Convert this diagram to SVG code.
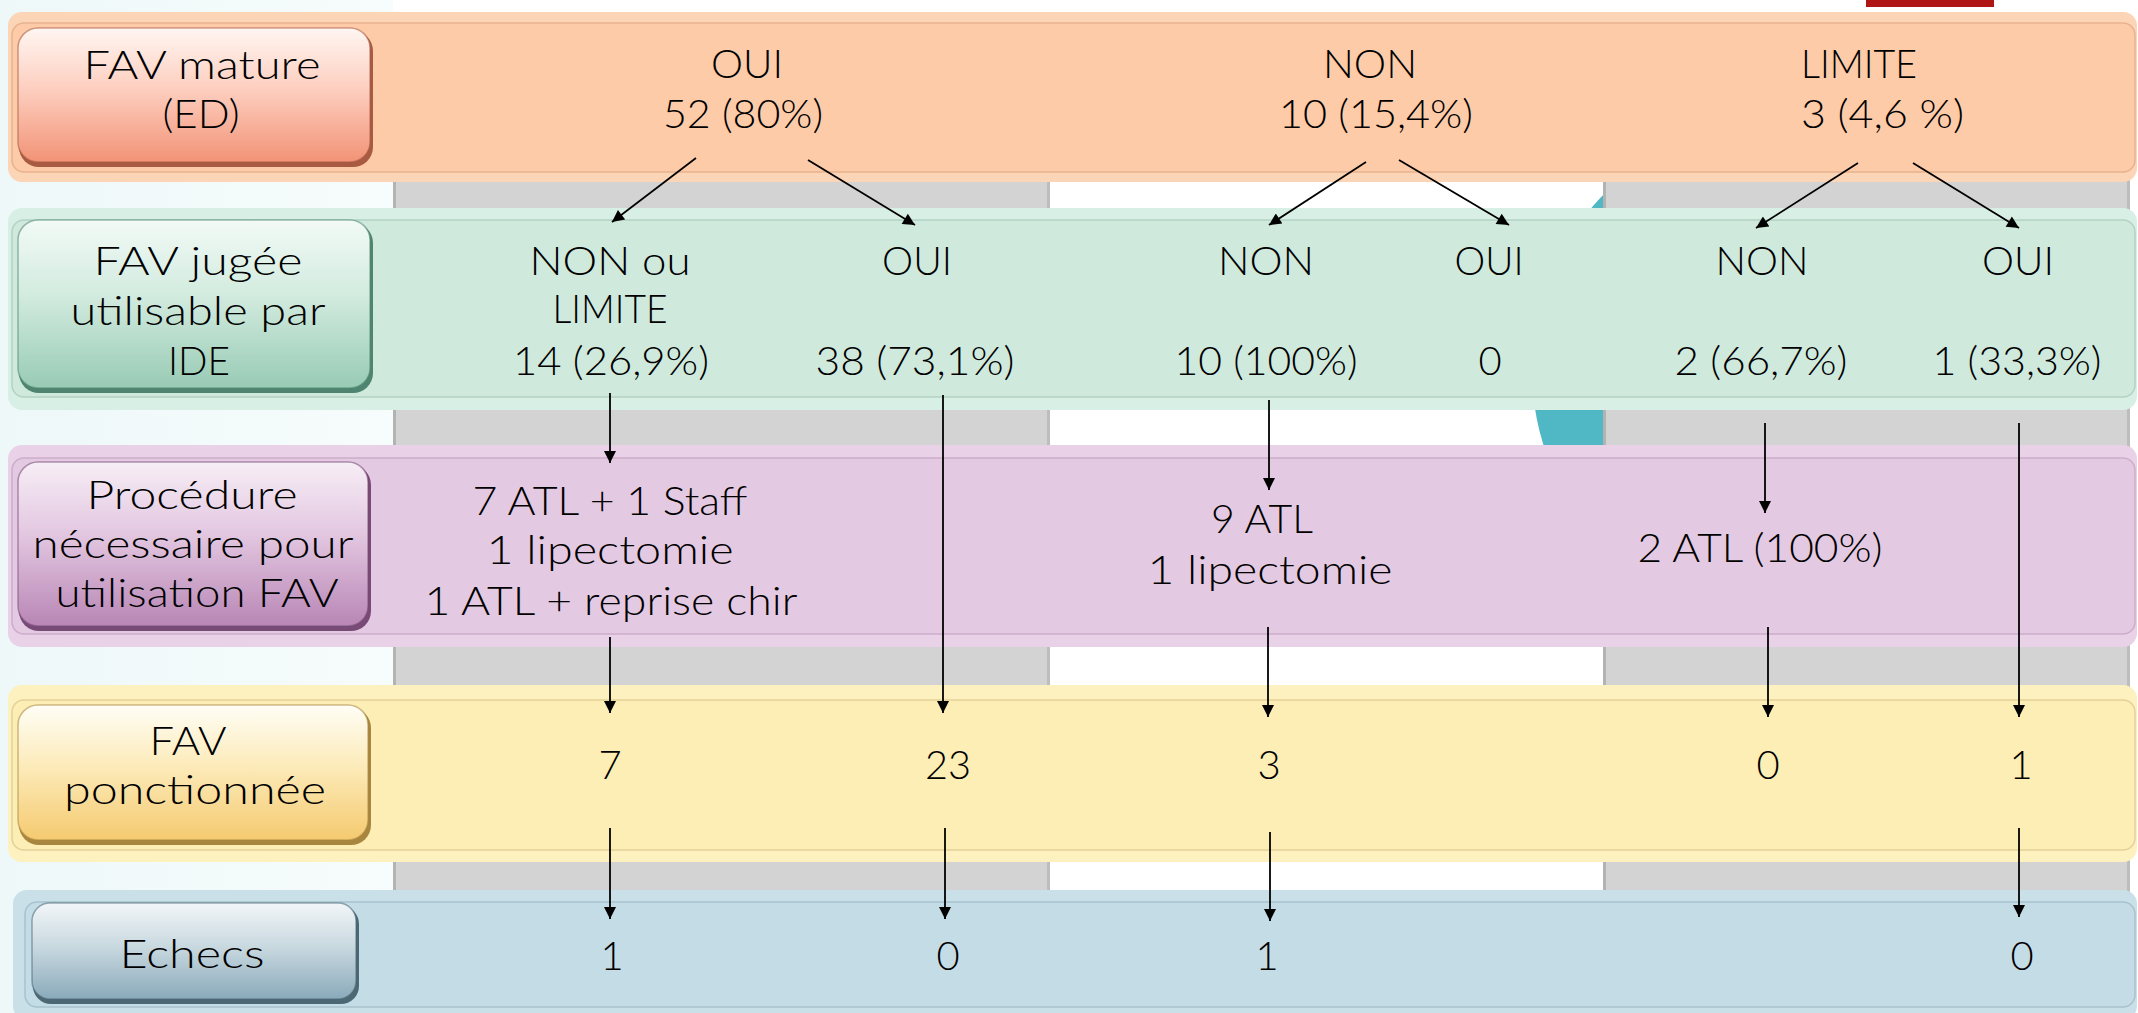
<svg xmlns="http://www.w3.org/2000/svg" width="2138" height="1013" viewBox="0 0 2138 1013">
<defs>
<style>
text{font-family:"Lato","DejaVu Sans","Liberation Sans",sans-serif;font-weight:300;font-size:40px;fill:#000;text-anchor:middle}
.conn line{stroke:#000;stroke-width:1.8;marker-end:url(#ah)}
.lbl{stroke-width:1.5;stroke-opacity:0.55}
</style>
<marker id="ah" viewBox="0 0 10 10" refX="10" refY="5" markerWidth="15" markerHeight="12" markerUnits="userSpaceOnUse" orient="auto"><path d="M0,0 L10,5 L0,10 z" fill="#000"/></marker>
<linearGradient id="bg" x1="0" y1="0" x2="1" y2="0"><stop offset="0" stop-color="#EEF8F9"/><stop offset="1" stop-color="#F7FCFC"/></linearGradient>
<linearGradient id="gO" x1="0" y1="0" x2="0" y2="1"><stop offset="0" stop-color="#FFF6F2"/><stop offset="0.45" stop-color="#FDCFC0"/><stop offset="1" stop-color="#F29376"/></linearGradient>
<linearGradient id="gG" x1="0" y1="0" x2="0" y2="1"><stop offset="0" stop-color="#F2FAF6"/><stop offset="0.45" stop-color="#D2EBDF"/><stop offset="1" stop-color="#98CBB5"/></linearGradient>
<linearGradient id="gP" x1="0" y1="0" x2="0" y2="1"><stop offset="0" stop-color="#F7EEF6"/><stop offset="0.45" stop-color="#E2C6E0"/><stop offset="1" stop-color="#B886B5"/></linearGradient>
<linearGradient id="gY" x1="0" y1="0" x2="0" y2="1"><stop offset="0" stop-color="#FFFEF6"/><stop offset="0.45" stop-color="#FCEBBA"/><stop offset="1" stop-color="#F5CA70"/></linearGradient>
<linearGradient id="gB" x1="0" y1="0" x2="0" y2="1"><stop offset="0" stop-color="#F2F6F8"/><stop offset="0.45" stop-color="#C9D9E0"/><stop offset="1" stop-color="#8AAABA"/></linearGradient>
</defs>

<g id="background">
<rect x="0" y="0" width="2138" height="1013" fill="#FFFFFF"/>
<rect x="0" y="0" width="393" height="1013" fill="url(#bg)"/>
<circle cx="1783" cy="370" r="251" fill="#4FB8C4"/>
<rect x="393" y="100" width="657" height="913" fill="#D3D3D3"/>
<rect x="393" y="100" width="3" height="913" fill="#B3B3B3"/>
<rect x="1047" y="100" width="3" height="913" fill="#BDBDBD"/>
<rect x="1603" y="100" width="527" height="913" fill="#D3D3D3"/>
<rect x="1603" y="100" width="3" height="913" fill="#B3B3B3"/>
<rect x="2127" y="100" width="3" height="913" fill="#BDBDBD"/>
<rect x="1866" y="0" width="128" height="7" fill="#B01515"/>
</g>

<g id="row-mature">
<rect x="8" y="12" width="2129" height="170" rx="14" fill="#FCD4B6"/>
<rect x="12" y="23" width="2123" height="149" rx="12" fill="#FDCBA8" stroke="#E8B28E" stroke-width="1.5"/>
<rect x="19" y="31" width="354" height="136" rx="20" fill="#A85A42"/>
<rect x="18" y="28" width="352" height="134" rx="20" fill="url(#gO)" class="lbl" stroke="#A85A42"/>
<text x="202" y="79" textLength="237" lengthAdjust="spacingAndGlyphs">FAV mature</text>
<text x="201" y="128" textLength="77" lengthAdjust="spacingAndGlyphs">(ED)</text>
<text x="747" y="78" textLength="72" lengthAdjust="spacingAndGlyphs">OUI</text>
<text x="743" y="128" textLength="160" lengthAdjust="spacingAndGlyphs">52 (80%)</text>
<text x="1370" y="78" textLength="94" lengthAdjust="spacingAndGlyphs">NON</text>
<text x="1376" y="128" textLength="194" lengthAdjust="spacingAndGlyphs">10 (15,4%)</text>
<text x="1801" y="78" style="text-anchor:start" textLength="116" lengthAdjust="spacingAndGlyphs">LIMITE</text>
<text x="1801" y="128" style="text-anchor:start" textLength="163" lengthAdjust="spacingAndGlyphs">3 (4,6 %)</text>
</g>

<g id="row-utilisable">
<rect x="8" y="208" width="2129" height="202" rx="14" fill="#D8EFE5"/>
<rect x="12" y="220" width="2123" height="177" rx="12" fill="#CFE9DD" stroke="#B3D2C4" stroke-width="1.5"/>
<rect x="19" y="223" width="354" height="170" rx="20" fill="#4F8570"/>
<rect x="18" y="220" width="352" height="168" rx="20" fill="url(#gG)" class="lbl" stroke="#4F8570"/>
<text x="198" y="275" textLength="209" lengthAdjust="spacingAndGlyphs">FAV jugée</text>
<text x="198" y="325" textLength="255" lengthAdjust="spacingAndGlyphs">utilisable par</text>
<text x="199" y="375" textLength="62" lengthAdjust="spacingAndGlyphs">IDE</text>
<text x="610" y="275" textLength="161" lengthAdjust="spacingAndGlyphs">NON ou</text>
<text x="610" y="323" textLength="115" lengthAdjust="spacingAndGlyphs">LIMITE</text>
<text x="611" y="375" textLength="196" lengthAdjust="spacingAndGlyphs">14 (26,9%)</text>
<text x="917" y="275" textLength="70" lengthAdjust="spacingAndGlyphs">OUI</text>
<text x="915" y="375" textLength="199" lengthAdjust="spacingAndGlyphs">38 (73,1%)</text>
<text x="1266" y="275" textLength="96" lengthAdjust="spacingAndGlyphs">NON</text>
<text x="1266" y="375" textLength="183" lengthAdjust="spacingAndGlyphs">10 (100%)</text>
<text x="1489" y="275" textLength="69" lengthAdjust="spacingAndGlyphs">OUI</text>
<text x="1490" y="375">0</text>
<text x="1762" y="275" textLength="93" lengthAdjust="spacingAndGlyphs">NON</text>
<text x="1761" y="375" textLength="173" lengthAdjust="spacingAndGlyphs">2 (66,7%)</text>
<text x="2018" y="275" textLength="72" lengthAdjust="spacingAndGlyphs">OUI</text>
<text x="2017" y="375" textLength="169" lengthAdjust="spacingAndGlyphs">1 (33,3%)</text>
</g>

<g id="row-procedure">
<rect x="8" y="445" width="2129" height="202" rx="14" fill="#E9D1E7"/>
<rect x="12" y="458" width="2123" height="176" rx="12" fill="#E4C9E2" stroke="#CDADCA" stroke-width="1.5"/>
<rect x="19" y="465" width="352" height="166" rx="20" fill="#784A76"/>
<rect x="18" y="462" width="350" height="164" rx="20" fill="url(#gP)" class="lbl" stroke="#784A76"/>
<text x="192" y="509" textLength="211" lengthAdjust="spacingAndGlyphs">Procédure</text>
<text x="193" y="558" textLength="321" lengthAdjust="spacingAndGlyphs">nécessaire pour</text>
<text x="197" y="607" textLength="283" lengthAdjust="spacingAndGlyphs">utilisation FAV</text>
<text x="610" y="515" textLength="275" lengthAdjust="spacingAndGlyphs">7 ATL + 1 Staff</text>
<text x="610" y="564" textLength="247" lengthAdjust="spacingAndGlyphs">1 lipectomie</text>
<text x="611" y="615" textLength="373" lengthAdjust="spacingAndGlyphs">1 ATL + reprise chir</text>
<text x="1262" y="533" textLength="102" lengthAdjust="spacingAndGlyphs">9 ATL</text>
<text x="1270" y="584" textLength="245" lengthAdjust="spacingAndGlyphs">1 lipectomie</text>
<text x="1760" y="562" textLength="245" lengthAdjust="spacingAndGlyphs">2 ATL (100%)</text>
</g>

<g id="row-ponctionnee">
<rect x="8" y="685" width="2129" height="177" rx="14" fill="#FDF1C0"/>
<rect x="12" y="700" width="2123" height="150" rx="12" fill="#FCEEB4" stroke="#E4D197" stroke-width="1.5"/>
<rect x="19" y="708" width="352" height="137" rx="20" fill="#A88640"/>
<rect x="18" y="705" width="350" height="135" rx="20" fill="url(#gY)" class="lbl" stroke="#A88640"/>
<text x="188" y="755" textLength="77" lengthAdjust="spacingAndGlyphs">FAV</text>
<text x="195" y="804" textLength="262" lengthAdjust="spacingAndGlyphs">ponctionnée</text>
<text x="610" y="779">7</text>
<text x="948" y="779" textLength="46" lengthAdjust="spacingAndGlyphs">23</text>
<text x="1269" y="779">3</text>
<text x="1768" y="779">0</text>
<text x="2021" y="779">1</text>
</g>

<g id="row-echecs">
<rect x="13" y="890" width="2124" height="130" rx="14" fill="#CAE0E9"/>
<rect x="25" y="902" width="2110" height="105" rx="12" fill="#C4DCE5" stroke="#A6C2CD" stroke-width="1.5"/>
<rect x="33" y="906" width="326" height="98" rx="18" fill="#4C6874"/>
<rect x="32" y="903" width="324" height="96" rx="18" fill="url(#gB)" class="lbl" stroke="#4C6874"/>
<text x="192" y="968" textLength="145" lengthAdjust="spacingAndGlyphs">Echecs</text>
<text x="612" y="970">1</text>
<text x="948" y="970">0</text>
<text x="1267" y="970">1</text>
<text x="2022" y="970">0</text>
</g>

<g id="connectors" class="conn">
<line x1="696" y1="158" x2="612" y2="222"/>
<line x1="808" y1="160" x2="915" y2="225"/>
<line x1="1366" y1="162" x2="1269" y2="225"/>
<line x1="1399" y1="160" x2="1509" y2="225"/>
<line x1="1858" y1="163" x2="1756" y2="228"/>
<line x1="1913" y1="163" x2="2019" y2="228"/>
<line x1="610" y1="393" x2="610" y2="463"/>
<line x1="1269" y1="400" x2="1269" y2="490"/>
<line x1="1765" y1="423" x2="1765" y2="513"/>
<line x1="943" y1="395" x2="943" y2="713"/>
<line x1="2019" y1="423" x2="2019" y2="717"/>
<line x1="610" y1="637" x2="610" y2="713"/>
<line x1="1268" y1="627" x2="1268" y2="717"/>
<line x1="1768" y1="627" x2="1768" y2="717"/>
<line x1="610" y1="828" x2="610" y2="919"/>
<line x1="945" y1="828" x2="945" y2="919"/>
<line x1="1270" y1="832" x2="1270" y2="921"/>
<line x1="2019" y1="828" x2="2019" y2="917"/>
</g>
</svg>
